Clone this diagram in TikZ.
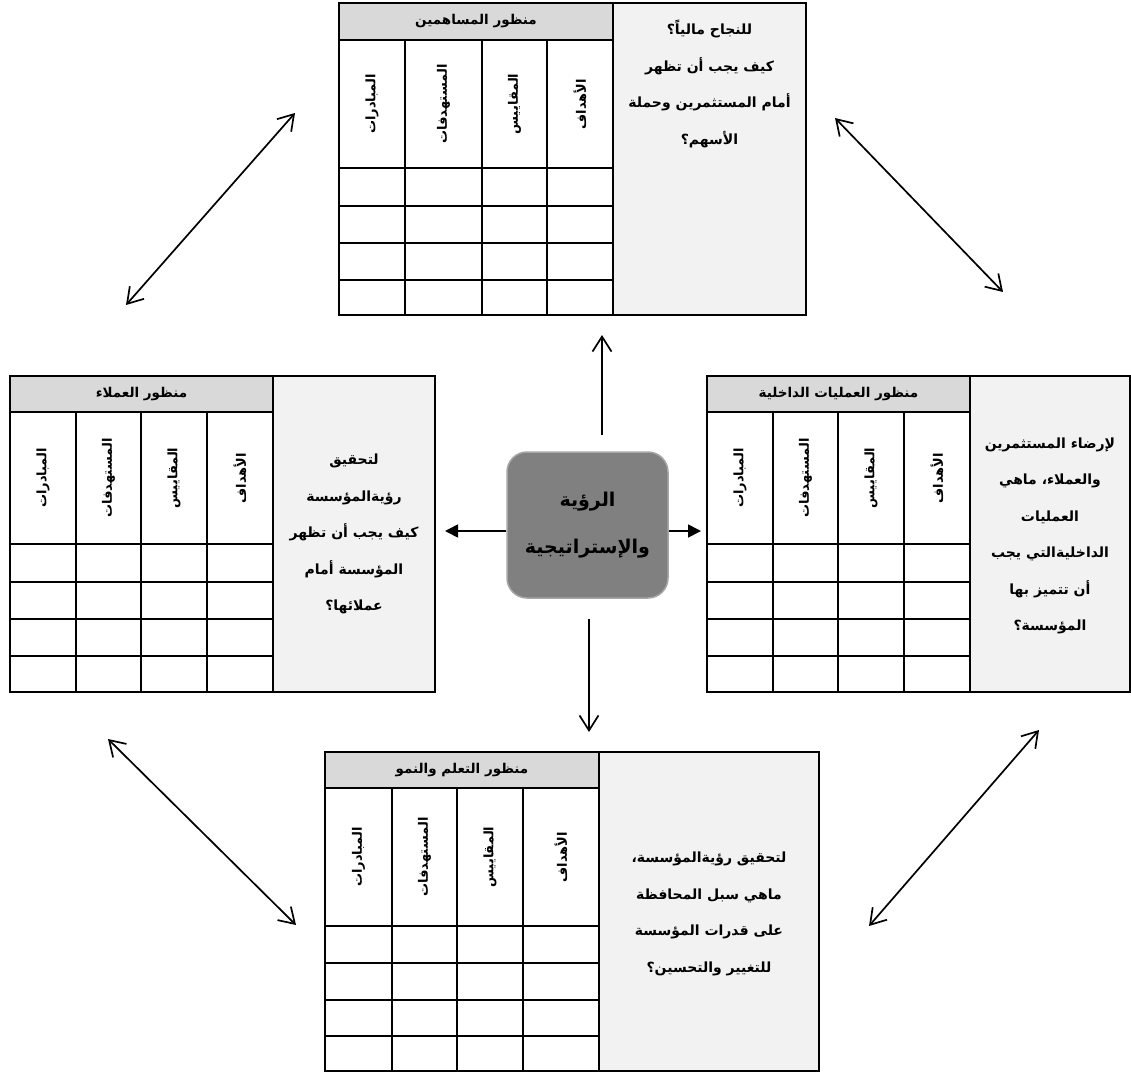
\documentclass[tikz,border=0pt]{standalone}
\usepackage{fontspec}
\newfontfamily\arabicfont[Script=Arabic]{DejaVu Sans}
\usetikzlibrary{arrows.meta}
\TeXXeTstate=1
\newcommand{\artxt}[1]{\beginR #1\endR}
\definecolor{headgray}{HTML}{D9D9D9}
\definecolor{sidegray}{HTML}{F2F2F2}
\definecolor{visiongray}{HTML}{808080}
\definecolor{visionedge}{HTML}{A6A6A6}

\begin{document}
\begin{tikzpicture}[x=1pt,y=-1pt]
	\tikzset{tabline/.style = {line width=2.2pt},
		tabframe/.style = {line width=2.5pt},
		headfill/.style = {fill=headgray},
		sidefill/.style = {fill=sidegray},
		headtext/.style = {font=\arabicfont\bfseries\fontsize{13.5}{15}\selectfont, inner sep=0pt},
		colhead/.style = {font=\arabicfont\bfseries\fontsize{13}{15}\selectfont, rotate=90, inner sep=0pt},
		sidetext/.style = {font=\arabicfont\bfseries\fontsize{14}{36.5}\selectfont, align=center, inner sep=0pt},
		vision/.style = {draw=visionedge, fill=visiongray, line width=1.5pt, rounded corners=20pt,
			minimum width=161pt, minimum height=146pt, align=center,
			font=\arabicfont\bfseries\fontsize{19}{47}\selectfont},
		barb/.style = {line width=1.7pt, -{Straight Barb[length=15pt,width=19pt]}},
		duobarb/.style = {line width=1.7pt, {Straight Barb[length=15pt,width=19pt]}-{Straight Barb[length=15pt,width=19pt]}},
		solidarrow/.style = {line width=1.7pt, -{Triangle[length=13pt,width=13pt]}}}

	\useasboundingbox (0,0) rectangle (1131,1073);

	% shareholders (top)
	\fill[sidefill] (613,3) rectangle (806,315);
	\fill[headfill] (339,3) rectangle (613,40);
	\draw[tabline] (339,40) -- (613,40);
	\foreach \x in {405,482,547} \draw[tabline] (\x,40) -- (\x,315);
	\foreach \y in {168,206,243,280} \draw[tabline] (339,\y) -- (613,\y);
	\draw[tabline] (613,3) -- (613,315);
	\draw[tabframe] (339,3) rectangle (806,315);
	\node[headtext] (shareHead) at (476,21.5) {\artxt{منظور  المساهمين}};
	\foreach \x/\t [count=\i] in {372/المبادرات,443.5/المستهدفات,514.5/المقاييس,580/الأهداف}
		\node[colhead] (share\i) at (\x,104) {\artxt{\t}};
	\node[sidetext] (shareQ) at (709.5,84) {\artxt{للنجاح مالياً؟}\\\artxt{كيف يجب أن تظهر}\\\artxt{أمام المستثمرين وحملة}\\\artxt{الأسهم؟}};

	% customers (left)
	\fill[sidefill] (273,376) rectangle (435,692);
	\fill[headfill] (10,376) rectangle (273,412);
	\draw[tabline] (10,412) -- (273,412);
	\foreach \x in {76,141,207} \draw[tabline] (\x,412) -- (\x,692);
	\foreach \y in {544,582,619,656} \draw[tabline] (10,\y) -- (273,\y);
	\draw[tabline] (273,376) -- (273,692);
	\draw[tabframe] (10,376) rectangle (435,692);
	\node[headtext] (custHead) at (141.5,394) {\artxt{منظور  العملاء}};
	\foreach \x/\t [count=\i] in {43/المبادرات,108.5/المستهدفات,174/المقاييس,240/الأهداف}
		\node[colhead] (cust\i) at (\x,478) {\artxt{\t}};
	\node[sidetext] (custQ) at (354,534) {\artxt{لتحقيق}\\\artxt{رؤيةالمؤسسة}\\\artxt{كيف يجب أن تظهر}\\\artxt{المؤسسة أمام}\\\artxt{عملائها؟}};

	% internal processes (right)
	\fill[sidefill] (970,376) rectangle (1130,692);
	\fill[headfill] (707,376) rectangle (970,412);
	\draw[tabline] (707,412) -- (970,412);
	\foreach \x in {773,838,904} \draw[tabline] (\x,412) -- (\x,692);
	\foreach \y in {544,582,619,656} \draw[tabline] (707,\y) -- (970,\y);
	\draw[tabline] (970,376) -- (970,692);
	\draw[tabframe] (707,376) rectangle (1130,692);
	\node[headtext] (procHead) at (838.5,394) {\artxt{منظور  العمليات  الداخلية}};
	\foreach \x/\t [count=\i] in {740/المبادرات,805.5/المستهدفات,871/المقاييس,937/الأهداف}
		\node[colhead] (proc\i) at (\x,478) {\artxt{\t}};
	\node[sidetext] (procQ) at (1050,536) {\artxt{لإرضاء المستثمرين}\\\artxt{والعملاء، ماهي}\\\artxt{العمليات}\\\artxt{الداخليةالتي يجب}\\\artxt{أن تتميز بها}\\\artxt{المؤسسة؟}};

	% learning and growth (bottom)
	\fill[sidefill] (599,752) rectangle (819,1071);
	\fill[headfill] (325,752) rectangle (599,788);
	\draw[tabline] (325,788) -- (599,788);
	\foreach \x in {392,457,523} \draw[tabline] (\x,788) -- (\x,1071);
	\foreach \y in {926,963,1000,1036} \draw[tabline] (325,\y) -- (599,\y);
	\draw[tabline] (599,752) -- (599,1071);
	\draw[tabframe] (325,752) rectangle (819,1071);
	\node[headtext] (learnHead) at (462,770) {\artxt{منظور  التعلم والنمو}};
	\foreach \x/\t [count=\i] in {358.5/المبادرات,424.5/المستهدفات,490/المقاييس,561/الأهداف}
		\node[colhead] (learn\i) at (\x,857) {\artxt{\t}};
	\node[sidetext] (learnQ) at (709,914) {\artxt{لتحقيق رؤيةالمؤسسة،}\\\artxt{ماهي سبل المحافظة}\\\artxt{على قدرات المؤسسة}\\\artxt{للتغيير والتحسين؟}};

	% vision and strategy
	\node[vision] (vision) at (587.5,525) {\artxt{الرؤية}\\\artxt{والإستراتيجية}};

	\coordinate (upTip) at (602,335);
	\coordinate (dnTip) at (589,732);
	\coordinate (lfTip) at (445,531);
	\coordinate (rtTip) at (701,531);
	\draw[barb, shorten <=16pt] (vision.north -| upTip) -- (upTip);
	\draw[barb, shorten <=20pt] (vision.south -| dnTip) -- (dnTip);
	\draw[solidarrow] (vision.west |- lfTip) -- (lfTip);
	\draw[solidarrow] (vision.east |- rtTip) -- (rtTip);

	\coordinate (tlA) at (126,305);
	\coordinate (tlB) at (295,113);
	\coordinate (trA) at (835,118);
	\coordinate (trB) at (1003,292);
	\coordinate (blA) at (108,739);
	\coordinate (blB) at (296,925);
	\coordinate (brA) at (869,926);
	\coordinate (brB) at (1039,730);
	\draw[duobarb] (tlA) -- (tlB);
	\draw[duobarb] (trA) -- (trB);
	\draw[duobarb] (blA) -- (blB);
	\draw[duobarb] (brA) -- (brB);

\end{tikzpicture}
\end{document}
